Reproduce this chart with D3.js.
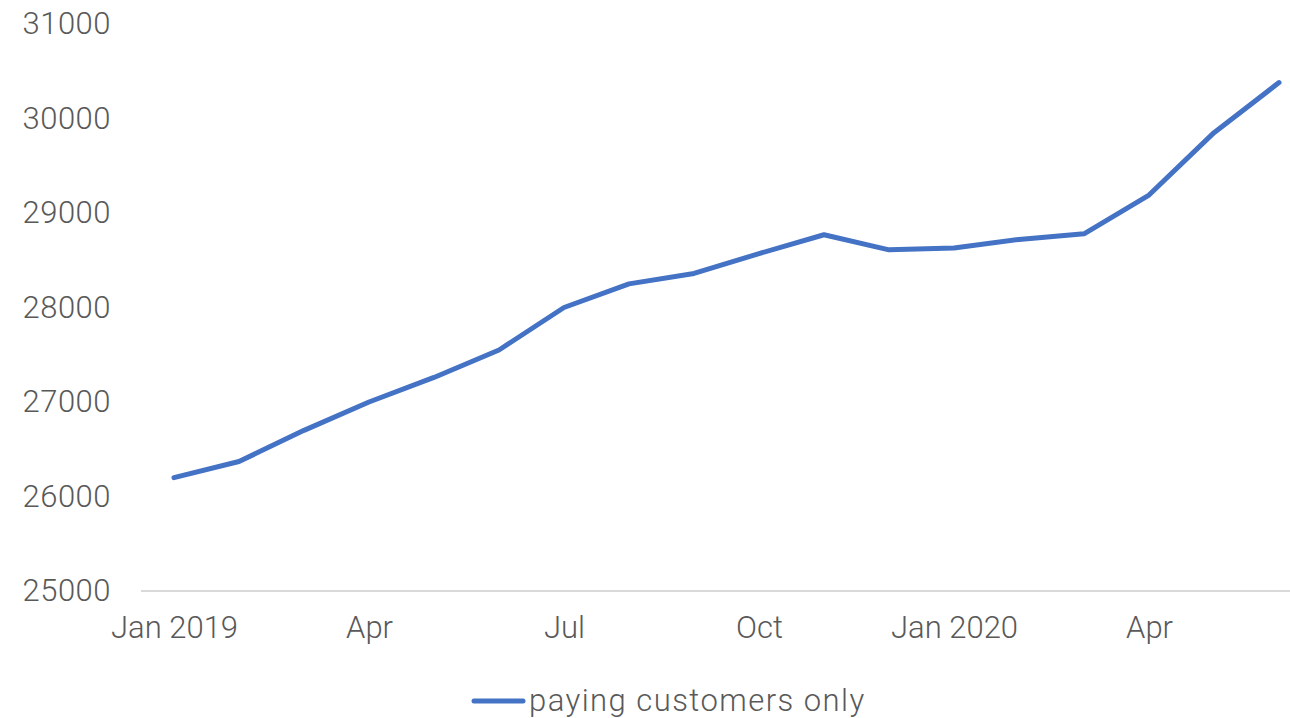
<!DOCTYPE html>
<html>
<head>
<meta charset="utf-8">
<script src="https://cdn.jsdelivr.net/npm/d3@7"></script>
<style>
  body { margin: 0; background: #fff; }
  svg text { font-family: Roboto, "Noto Sans", sans-serif; font-weight: 300; fill: #595959; }
</style>
</head>
<body>
<svg id="chart" width="1290" height="718"></svg>
<script>
// monthly values, Jan 2019 - Jun 2020
var months = ['Jan 2019', 'Feb', 'Mar', 'Apr', 'May', 'Jun', 'Jul', 'Aug', 'Sep',
              'Oct', 'Nov', 'Dec', 'Jan 2020', 'Feb', 'Mar', 'Apr', 'May', 'Jun'];
var paying = [26200, 26370, 26700, 27000, 27260, 27550, 28000, 28250, 28360,
              28570, 28770, 28610, 28630, 28720, 28780, 29190, 29850, 30380];
var yTicks = [25000, 26000, 27000, 28000, 29000, 30000, 31000];
var xTickIdx = [0, 3, 6, 9, 12, 15];
var seriesName = 'paying customers only';

function main() {
    var svg = d3.select('#chart');

    var x = d3.scalePoint()
        .domain(d3.range(months.length))
        .range([174, 1279]);
    var y = d3.scaleLinear()
        .domain([25000, 31000])
        .range([591, 24]);

    // baseline
    svg.append('line')
        .attr('x1', 141).attr('x2', 1290)
        .attr('y1', y(25000)).attr('y2', y(25000))
        .attr('stroke', '#d9d9d9')
        .attr('stroke-width', 2);

    // y labels
    var yAxis = d3.axisLeft(y).tickValues(yTicks).tickSize(0).tickPadding(0)
        .tickFormat(d3.format('d'));
    var gy = svg.append('g').attr('transform', 'translate(111,0)').call(yAxis);
    gy.select('.domain').remove();
    gy.selectAll('text').style('font-size', '31px').style('letter-spacing', '0.5px')
        .attr('fill', '#595959');

    // x labels
    var xAxis = d3.axisBottom(x).tickValues(xTickIdx).tickSize(0).tickPadding(0)
        .tickFormat(function(i) { return months[i]; });
    var gx = svg.append('g').attr('transform', 'translate(0,616)').call(xAxis);
    gx.select('.domain').remove();
    gx.selectAll('text').style('font-size', '31px').attr('fill', '#595959');

    var line = d3.line()
        .x(function(d, i) { return x(i); })
        .y(function(d) { return y(d); });

    svg.append('path')
        .datum(paying)
        .attr('d', line)
        .attr('fill', 'none')
        .attr('stroke', '#4472c4')
        .attr('stroke-width', 5)
        .attr('stroke-linecap', 'round')
        .attr('stroke-linejoin', 'round');

    // legend
    svg.append('line')
        .attr('x1', 474).attr('x2', 523)
        .attr('y1', 701).attr('y2', 701)
        .attr('stroke', '#4472c4')
        .attr('stroke-width', 5)
        .attr('stroke-linecap', 'round');
    svg.append('text')
        .attr('x', 529).attr('y', 711)
        .style('font-size', '31px')
        .style('letter-spacing', '1.45px')
        .text(seriesName);
}

main();
</script>
</body>
</html>
